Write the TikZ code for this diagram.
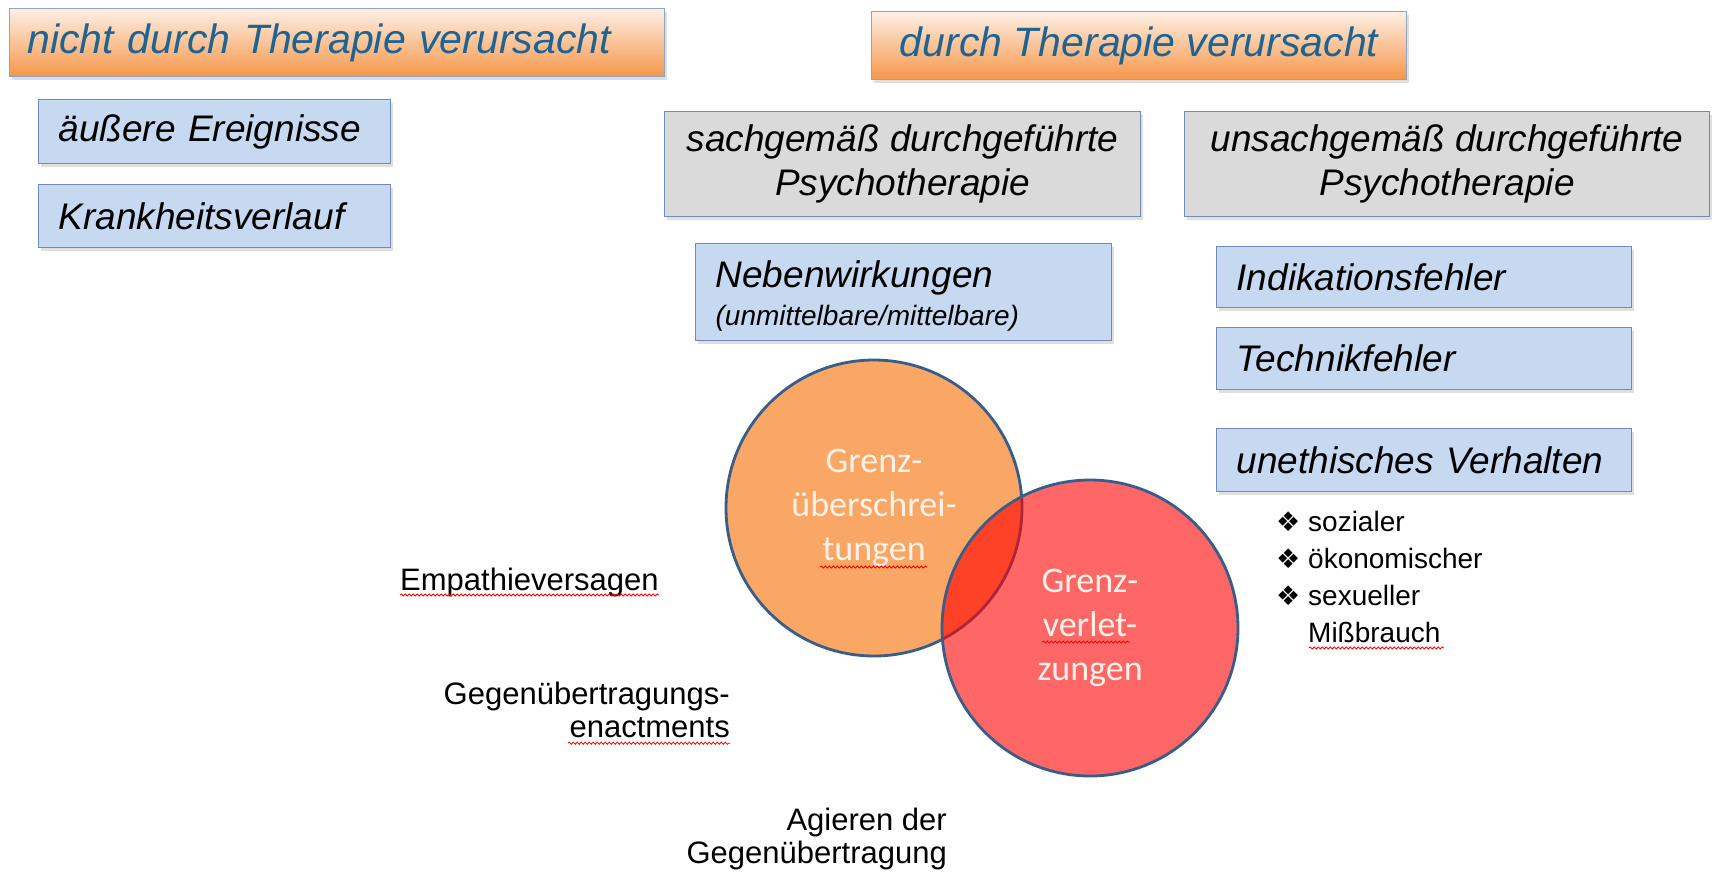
\documentclass[tikz,border=0pt]{standalone}
\usepackage{fontspec}
\setmainfont{Liberation Sans}
\newfontfamily\calibri{Carlito}
\newfontfamily\dejavu{DejaVu Sans}
\usepackage{xcolor}
\usetikzlibrary{shadows,decorations.pathmorphing}

\definecolor{hdrtext}{RGB}{31,99,145}
\definecolor{hdrtop}{RGB}{253,240,230}
\definecolor{hdrbot}{RGB}{246,150,72}
\definecolor{hdrline}{RGB}{140,165,200}
\definecolor{boxblue}{RGB}{198,217,241}
\definecolor{boxline}{RGB}{110,140,185}
\definecolor{boxgray}{RGB}{218,218,218}
\definecolor{circorange}{RGB}{250,166,100}
\definecolor{circline}{RGB}{56,93,138}
\definecolor{circtext}{RGB}{255,242,232}

\newcommand\hdrfont{\fontsize{41}{48}\selectfont\itshape}
\newcommand\boxfont{\fontsize{37}{44}\selectfont\itshape}
\newcommand\circfont{\calibri\fontsize{36}{44}\selectfont}
\newcommand\dia{{\dejavu\fontsize{27}{27}\selectfont ❖}}

\begin{document}
\begin{tikzpicture}[x=1pt,y=-1pt,
  shad/.style={drop shadow={shadow xshift=2pt,shadow yshift=-3pt,opacity=0.25}},
  hdr/.style={draw=hdrline,line width=1.2pt,top color=hdrtop,bottom color=hdrbot,
    text=hdrtext,font=\hdrfont,inner ysep=0pt,anchor=north west,shad},
  bluebox/.style={draw=boxline,line width=1.2pt,fill=boxblue,font=\boxfont,
    inner xsep=20pt,inner ysep=0pt,align=left,anchor=north west,shad},
  graybox/.style={draw=boxline,line width=1.2pt,fill=boxgray,font=\boxfont,
    inner ysep=0pt,align=center,anchor=north west,shad},
  venn/.style={circle,draw=circline,line width=2.8pt,minimum size=296pt,
    inner sep=0pt,align=center,font=\circfont,text=circtext},
  plain/.style={font=\fontsize{31}{33}\selectfont,inner sep=0pt},
  spell/.style={red,line width=0.8pt,decorate,decoration={snake,amplitude=1.1pt,segment length=4pt}}]

\useasboundingbox (0,0) rectangle (1713,876);

\node[hdr,minimum width=655,minimum height=68,inner xsep=18pt,text width=619,align=left] (notther) at (9,8) {nicht durch Therapie verursacht};
\node[hdr,minimum width=535,minimum height=68,align=center] (byther) at (871,11) {durch Therapie verursacht};

\node[bluebox,minimum height=64,text width=312] (events) at (38,99) {äußere Ereignisse};
\node[bluebox,minimum height=63,text width=312] (course) at (38,184) {Krankheitsverlauf};

\node[graybox,minimum width=476,minimum height=105] (proper) at (664,111) {sachgemäß durchgeführte\\Psychotherapie};
\node[graybox,minimum width=525,minimum height=105] (improper) at (1184,111) {unsachgemäß durchgeführte\\Psychotherapie};

\node[bluebox,minimum height=97,text width=376] (side) at (695,243) {\rule{0pt}{35pt}Nebenwirkungen\\[-6pt]{\fontsize{28}{32}\selectfont (unmittelbare/mittelbare)}};

\node[bluebox,minimum height=61,text width=375] (indic) at (1216,246) {Indikationsfehler};
\node[bluebox,minimum height=62,text width=375] (techn) at (1216,327) {Technikfehler};
\node[bluebox,minimum height=63,text width=375] (ethic) at (1216,428) {unethisches Verhalten};

\node[venn,fill=circorange] (crossing) at (874,508) {Grenz-\\überschrei-\\tungen};
\node[venn,fill=red,fill opacity=0.6,text opacity=1] (violation) at (1090,628) {Grenz-\\verlet-\\zungen};

\node[plain,anchor=base west] (empathy) at (400,590) {Empathieversagen};
\node[plain,anchor=north east,align=right] (enact) at (730,682) {Gegenübertragungs-\\enactments};
\node[plain,anchor=north east,align=right] (acting) at (947,808) {Agieren der\\Gegenübertragung};

\node[plain,anchor=north west,align=left,font=\fontsize{28}{37}\selectfont] (abuse) at (1276,511)
  {\dia\ sozialer\\\dia\ ökonomischer\\\dia\ sexueller\\\phantom{\dia\ }Mißbrauch};

\draw[spell] ([xshift=-54pt,yshift=-59pt]crossing.center) -- ([xshift=53pt,yshift=-59pt]crossing.center);
\draw[spell] ([xshift=-48pt,yshift=-14pt]violation.center) -- ([xshift=40pt,yshift=-14pt]violation.center);
\draw[spell] ([yshift=-5pt]empathy.base west) -- ([yshift=-5pt]empathy.base east);
\draw[spell] ([xshift=-162pt,yshift=-5pt]enact.south east) -- ([yshift=-5pt]enact.south east);
\draw[spell] ([xshift=33pt,yshift=-5pt]abuse.south west) -- ([xshift=168pt,yshift=-5pt]abuse.south west);

\end{tikzpicture}
\end{document}
